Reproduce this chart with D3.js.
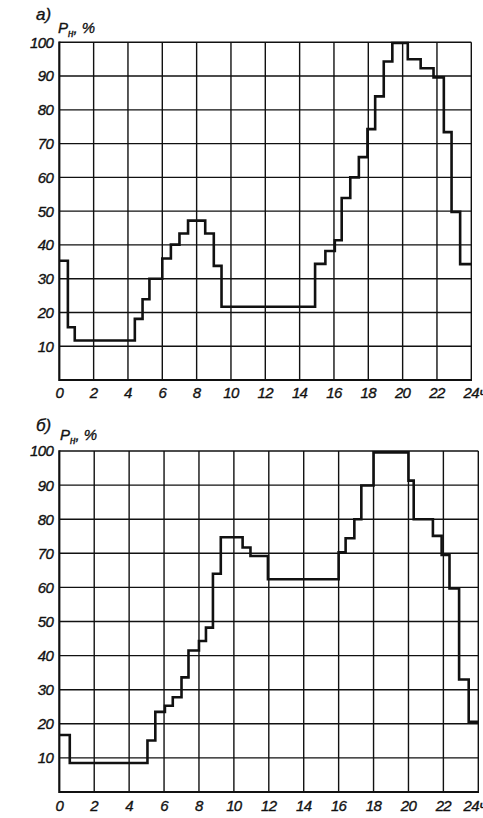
<!DOCTYPE html>
<html>
<head>
<meta charset="utf-8">
<script src="https://cdn.jsdelivr.net/npm/d3@7"></script>
<style>
  html, body { margin: 0; padding: 0; background: #fff; overflow: hidden; }
  svg { display: block; }
  text { font-family: "Liberation Sans", "DejaVu Sans", sans-serif; font-style: italic; fill: #111; stroke: #111; stroke-width: 0.35; }
</style>
</head>
<body>
<svg id="chart" width="483" height="818"></svg>
<script>
// ---- Data ----
const xTicks = [0, 2, 4, 6, 8, 10, 12, 14, 16, 18, 20, 22, 24];
const yTicks = [10, 20, 30, 40, 50, 60, 70, 80, 90, 100];

// Panel a): step start hours and load values (%)
const hoursA  = [0, 0.5, 0.9, 4.4, 4.85, 5.25, 6, 6.5, 7, 7.5, 8.5, 9, 9.45, 14.9, 15.5, 16.05, 16.45, 16.95, 17.45, 17.95, 18.4, 18.9, 19.4, 20.3, 21.05, 21.8, 22.4, 22.85, 23.35];
const valuesA = [35.3, 15.6, 11.7, 18.1, 23.9, 30, 36, 40.1, 43.4, 47.2, 43.4, 33.8, 21.7, 34.4, 38.2, 41.4, 53.9, 60, 66, 74.3, 84, 94.3, 99.8, 95, 92.3, 89.6, 73.4, 49.8, 34.3];

// Panel б): step start hours and load values (%)
const hoursB  = [0, 0.6, 5.05, 5.5, 6.05, 6.5, 7, 7.4, 8, 8.4, 8.8, 9.25, 10.5, 10.95, 11.95, 16, 16.4, 16.9, 17.3, 18, 20, 20.3, 21.4, 21.9, 22.35, 22.9, 23.45];
const valuesB = [16.7, 8.5, 15.1, 23.5, 25.3, 27.8, 33.6, 41.5, 44.3, 48.2, 64, 74.7, 71.7, 69.2, 62.4, 70.3, 74.4, 80, 89.9, 99.6, 91.3, 80, 75.1, 69.5, 59.7, 33, 20.6];

const labelA = "а)";
const labelB = "б)";

// ---- Layout ----
const panels = [
  { hours: hoursA, values: valuesA, label: labelA, x0: 59.3, x1: 471.3, yBot: 380, yTop: 42.3,
    labelPos: [36, 20], unitPos: [58, 33], xLabY: 398, lastShift: 0 },
  { hours: hoursB, values: valuesB, label: labelB, x0: 59.3, x1: 478.3, yBot: 792, yTop: 451,
    labelPos: [36, 431], unitPos: [60, 440], xLabY: 811, lastShift: -7 }
];

const svg = d3.select("#chart");

panels.forEach(p => {
  const x = d3.scaleLinear().domain([0, 24]).range([p.x0, p.x1]);
  const y = d3.scaleLinear().domain([0, 100]).range([p.yBot, p.yTop]);
  const g = svg.append("g");

  // vertical grid lines
  g.selectAll(".vg").data(xTicks.filter(d => d > 0)).join("line")
    .attr("x1", d => x(d)).attr("x2", d => x(d))
    .attr("y1", y(0)).attr("y2", y(100))
    .attr("stroke", "#111").attr("stroke-width", 1.4);
  // horizontal grid lines
  g.selectAll(".hg").data(yTicks).join("line")
    .attr("x1", x(0)).attr("x2", x(24))
    .attr("y1", d => y(d)).attr("y2", d => y(d))
    .attr("stroke", "#111").attr("stroke-width", 1.4);
  // axes (thicker)
  g.append("line").attr("x1", x(0)).attr("x2", x(0)).attr("y1", y(0) + 1).attr("y2", y(100) - 0.7)
    .attr("stroke", "#111").attr("stroke-width", 2.2);
  g.append("line").attr("x1", x(0)).attr("x2", x(24) + 0.7).attr("y1", y(0)).attr("y2", y(0))
    .attr("stroke", "#111").attr("stroke-width", 2.2);

  // step line
  const pts = p.hours.map((h, i) => [h, p.values[i]]);
  pts.push([24, p.values[p.values.length - 1]]);
  const line = d3.line().x(d => x(d[0])).y(d => y(d[1])).curve(d3.curveStepAfter);
  g.append("path").datum(pts).attr("d", line)
    .attr("fill", "none").attr("stroke", "#111").attr("stroke-width", 2.6)
    .attr("stroke-linejoin", "miter");

  // y tick labels
  g.selectAll(".yl").data(yTicks).join("text")
    .attr("x", x(0) - 6).attr("y", d => y(d)).attr("dy", "0.36em")
    .attr("text-anchor", "end").attr("font-size", 15).attr("letter-spacing", -0.6)
    .text(d => d);
  // x tick labels
  g.selectAll(".xl").data(xTicks).join("text")
    .attr("x", d => x(d) + (d === 24 ? p.lastShift : 0)).attr("y", p.xLabY)
    .attr("text-anchor", "middle").attr("font-size", 15).attr("letter-spacing", -0.6)
    .text(d => d);
  g.append("text").attr("x", x(24) + 8 + p.lastShift).attr("y", p.xLabY)
    .attr("font-size", 15).text("ч");

  // panel label
  g.append("text").attr("x", p.labelPos[0]).attr("y", p.labelPos[1])
    .attr("font-size", 17).text(p.label);
  // unit label P_н, %
  const u = g.append("text").attr("x", p.unitPos[0]).attr("y", p.unitPos[1]).attr("font-size", 15);
  u.append("tspan").text("P");
  u.append("tspan").attr("font-size", 10).attr("dy", 4).text("н");
  u.append("tspan").attr("dy", -4).text(", %");
});
</script>
</body>
</html>
